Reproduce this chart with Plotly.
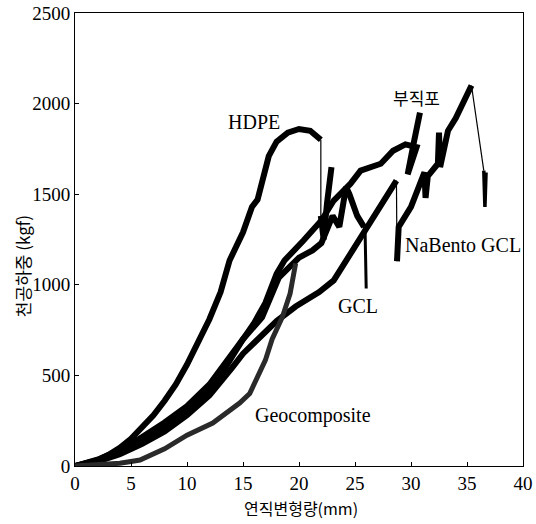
import plotly.graph_objects as go

# ---- data ----
hdpe_x = [0, 1, 2, 3, 4, 5, 6, 7, 8, 9, 10, 11, 12, 13, 13.8, 15, 15.8, 16.3, 16.8, 17.3, 18, 19, 20, 21, 21.95]
hdpe_y = [0, 12, 32, 62, 100, 150, 210, 280, 360, 450, 560, 680, 810, 960, 1134, 1290, 1430, 1470, 1600, 1710, 1790, 1840, 1860, 1850, 1800]
hdpe_tail_x = [21.95, 22.2, 22.5, 22.9]
hdpe_tail_y = [1380, 1250, 1450, 1650]

bujik_x = [0, 2, 4, 5, 6, 8, 10, 12, 13, 14, 15, 16, 17, 18, 18.7, 20.4, 22, 23.1, 24.6, 25.5, 27.3, 28.4, 29.5, 30.5, 29.7, 30.3, 30.8]
bujik_y = [0, 35, 85, 120, 160, 240, 330, 450, 530, 610, 700, 790, 900, 1060, 1134, 1244, 1355, 1465, 1558, 1630, 1668, 1740, 1775, 1760, 1610, 1800, 1950]

gcl_x = [0, 2, 4, 5, 6, 8, 10, 12, 13, 14, 15, 16.7, 18.2, 20, 21.2, 22, 23, 23.6, 24.2, 24.5, 25.2, 25.8]
gcl_y = [0, 30, 75, 105, 140, 215, 305, 420, 500, 600, 700, 820, 1040, 1150, 1190, 1230, 1380, 1320, 1540, 1500, 1380, 1320]
gcl_tail_x = [25.9, 26.0]
gcl_tail_y = [1300, 980]

nab_x = [0, 2, 4, 5, 6, 8, 10, 12, 13, 14, 15, 16, 17, 18, 19.7, 21.8, 23.1, 24.6, 25.8, 27.3, 28.4, 28.7]
nab_y = [0, 25, 65, 92, 122, 190, 280, 390, 460, 540, 620, 680, 740, 800, 880, 960, 1024, 1173, 1300, 1448, 1558, 1575]
nab_mid_x = [28.75, 28.9, 30, 30.7, 31.2, 31.3, 31.5, 32.4, 32.5, 32.6, 33.3, 34, 34.8, 35.4]
nab_mid_y = [1130, 1320, 1430, 1536, 1620, 1480, 1600, 1668, 1840, 1650, 1850, 1920, 2015, 2100]
nab_tail_x = [36.5, 36.6, 36.7]
nab_tail_y = [1630, 1430, 1620]

geo_x = [0, 2, 4, 5, 5.8, 8, 9.3, 10, 12.3, 14.7, 15.6, 16.2, 17, 17.6, 18.5, 19.2, 19.7]
geo_y = [0, 5, 15, 25, 33, 95, 143, 170, 237, 347, 400, 473, 584, 700, 820, 950, 1118]

labels = ["HDPE", "부직포", "NaBento GCL", "GCL", "Geocomposite"]
label_x = [15.98, 30.45, 34.64, 25.27, 21.25]
label_y = [1898, 2036, 1220, 883, 276]

x_ticks = [0, 5, 10, 15, 20, 25, 30, 35, 40]
y_ticks = [0, 500, 1000, 1500, 2000, 2500]

fig = go.Figure()

thick = dict(color="black", width=6)
thin = dict(color="black", width=1.2)

def add(x, y, line, name):
    fig.add_trace(go.Scatter(x=x, y=y, mode="lines", line=line, name=name, showlegend=False))

add(hdpe_x, hdpe_y, thick, "HDPE")
add([hdpe_x[-1], hdpe_tail_x[0]], [hdpe_y[-1], hdpe_tail_y[0]], thin, "HDPE")
add(hdpe_tail_x, hdpe_tail_y, thick, "HDPE")

add(bujik_x, bujik_y, thick, "부직포")

add(gcl_x, gcl_y, thick, "GCL")
add([gcl_x[-1]] + gcl_tail_x, [gcl_y[-1]] + gcl_tail_y, dict(color="black", width=3), "GCL")

add(nab_x, nab_y, thick, "NaBento GCL")
add([nab_x[-1], nab_mid_x[0]], [nab_y[-1], nab_mid_y[0]], thin, "NaBento GCL")
add(nab_mid_x, nab_mid_y, thick, "NaBento GCL")
add([nab_mid_x[-1], nab_tail_x[0]], [nab_mid_y[-1], nab_tail_y[0]], thin, "NaBento GCL")
add(nab_tail_x, nab_tail_y, dict(color="black", width=3.5), "NaBento GCL")

add(geo_x, geo_y, dict(color="#2a2a2a", width=5), "Geocomposite")

serif = "Liberation Serif, Times New Roman, serif"
for t, lx, ly in zip(labels, label_x, label_y):
    fnt = dict(family=serif, size=20, color="black")
    if t == "부직포":
        fnt = dict(family="Noto Sans CJK KR", size=17, color="black")
    fig.add_annotation(x=lx, y=ly, text=t, showarrow=False, font=fnt)

fig.add_annotation(xref="paper", yref="paper", x=-0.118, y=0.4415, text="천공하중 (kgf)",
                   textangle=-90, showarrow=False, xanchor="center", yanchor="middle",
                   font=dict(family="Noto Sans CJK KR", size=17, color="black"))
fig.add_annotation(xref="paper", yref="paper", x=0.505, y=-0.093, text="연직변형량(mm)",
                   showarrow=False, xanchor="center", yanchor="middle",
                   font=dict(family="Noto Sans CJK KR", size=16, color="black"))

axis_common = dict(showline=True, linecolor="black", linewidth=1, mirror=True,
                   showgrid=False, zeroline=False, ticks="inside", ticklen=4,
                   tickcolor="black", automargin=False,
                   tickfont=dict(family=serif, size=19, color="black"))
fig.update_xaxes(range=[0, 40], tickvals=x_ticks, ticktext=[str(v) for v in x_ticks], **axis_common)
fig.update_yaxes(range=[0, 2500], tickvals=y_ticks, ticktext=[str(v) for v in y_ticks], **axis_common)

fig.update_layout(width=536, height=524, margin=dict(l=75, r=13, t=13, b=58),
                  plot_bgcolor="white", paper_bgcolor="white")

fig.write_html("out.html")
